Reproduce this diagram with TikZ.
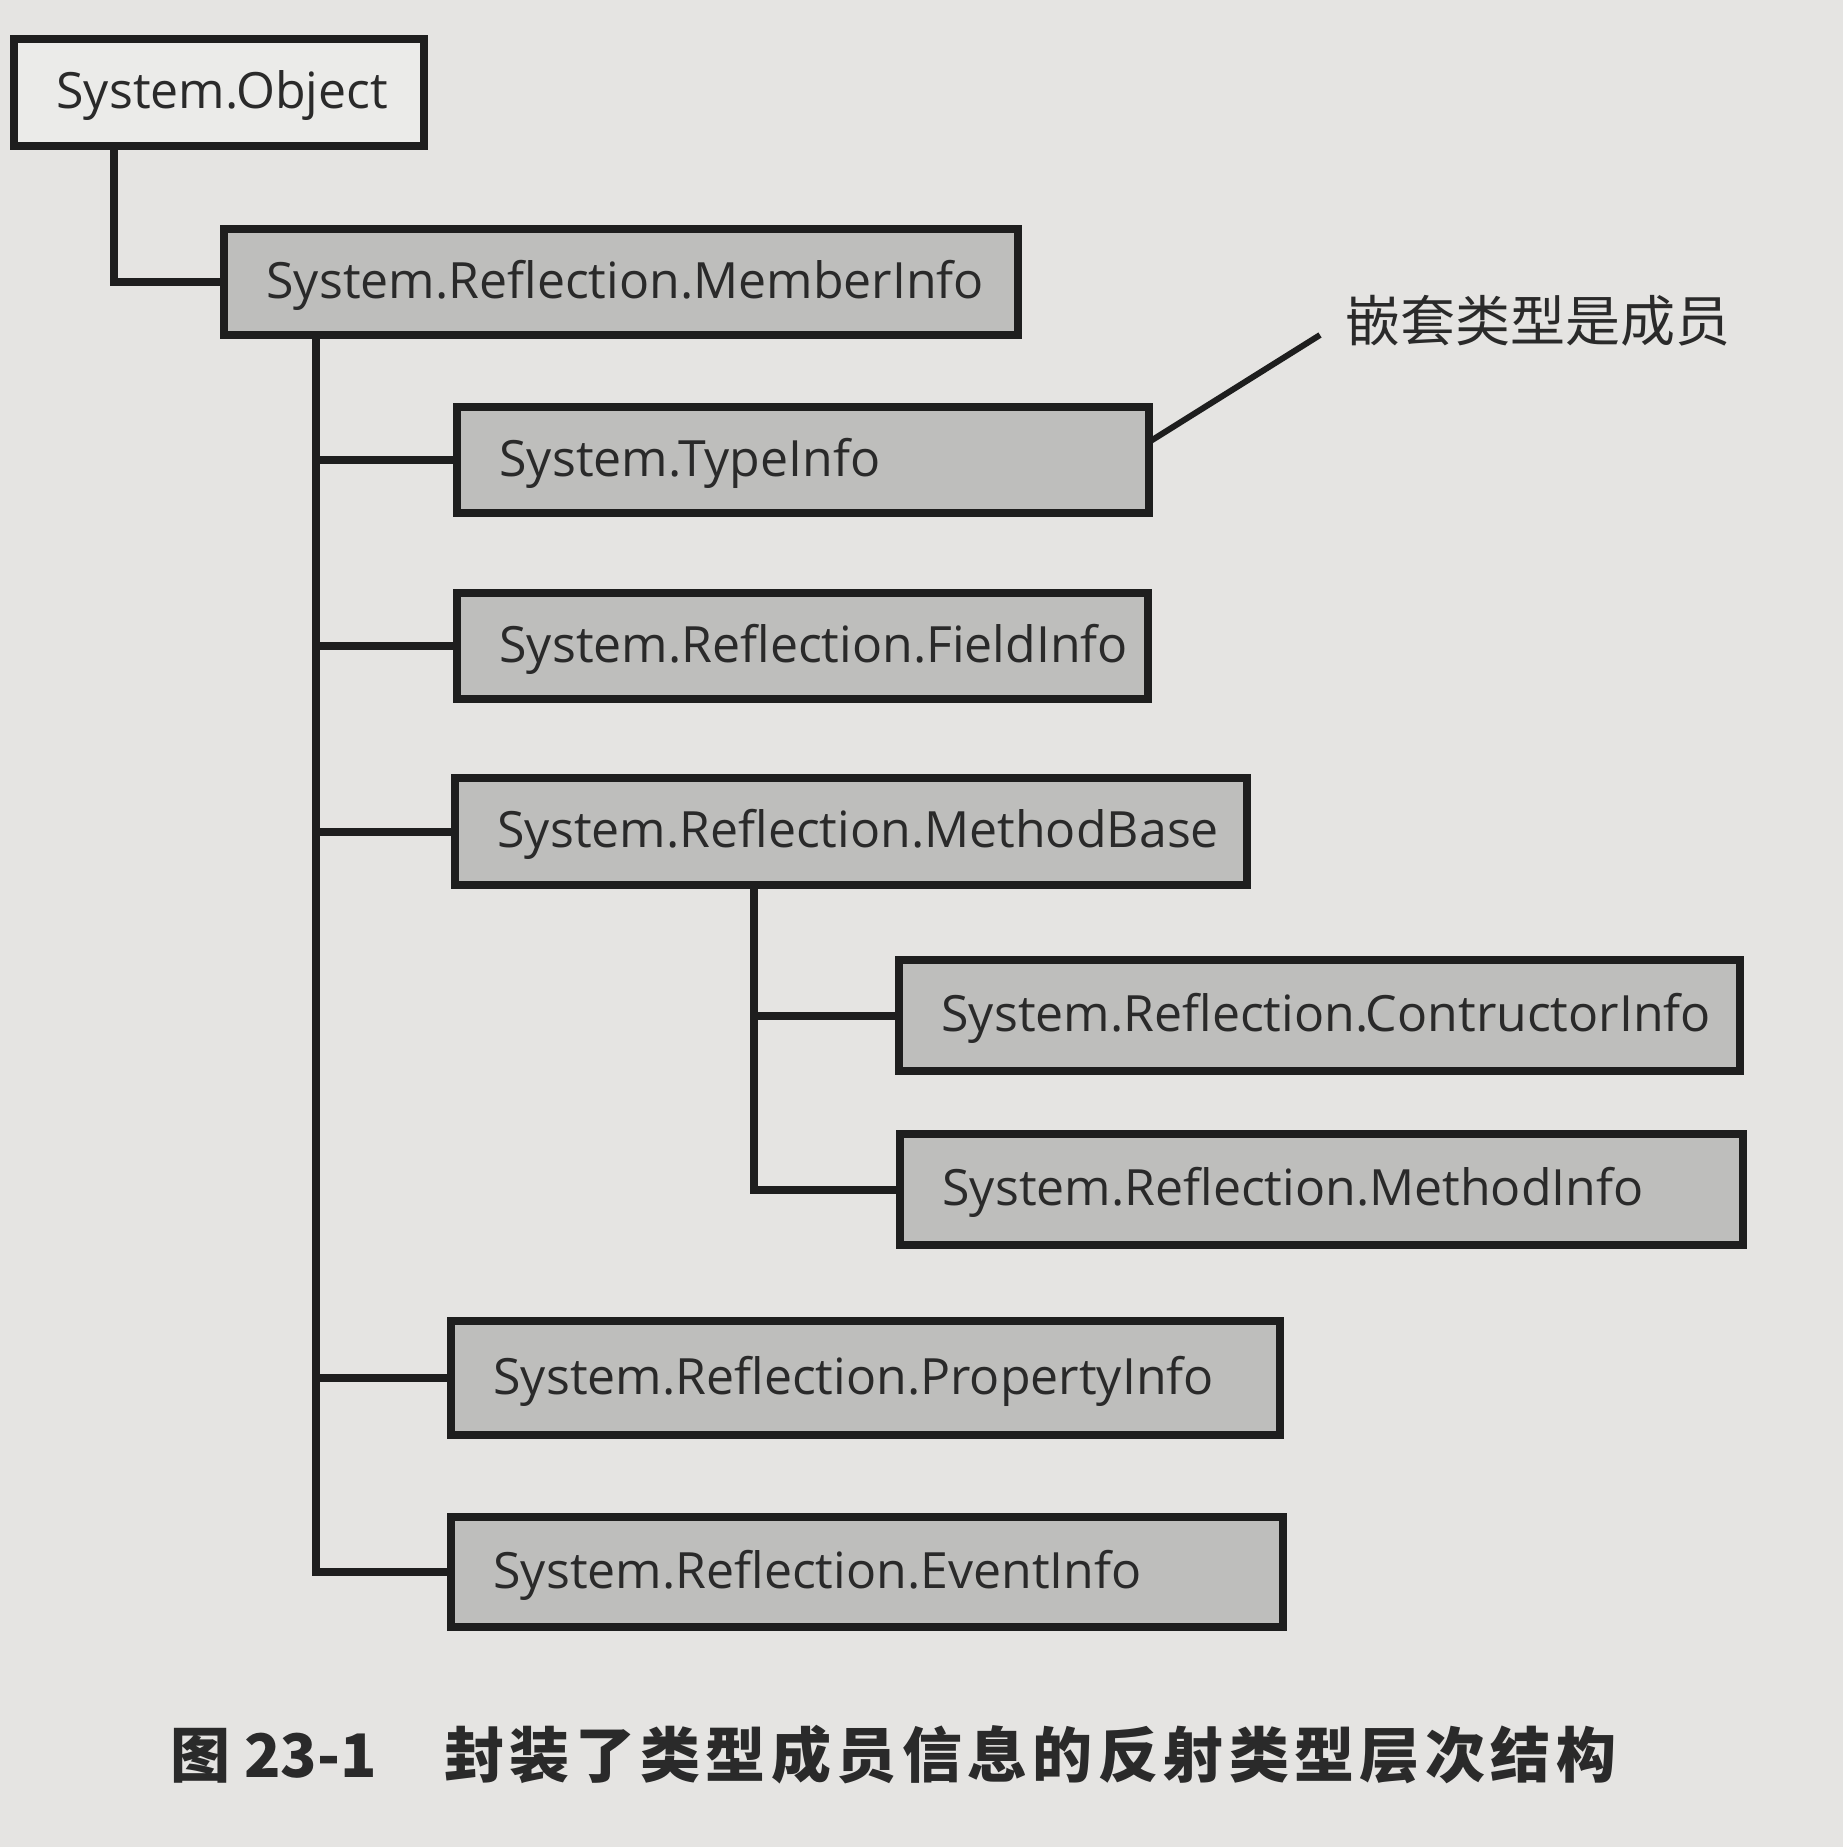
\documentclass[tikz,border=0pt]{standalone}
\usepackage{fontspec}
\setmainfont{Open Sans}
\newfontfamily\cjk{Noto Sans CJK SC}
\usetikzlibrary{fit}

\definecolor{paper}{RGB}{229,228,226}
\definecolor{boxgray}{RGB}{190,190,188}
\definecolor{ink}{RGB}{30,30,30}
\definecolor{txt}{RGB}{42,42,42}

\tikzset{
  box/.style={draw=ink, line width=3.2pt, fill=boxgray, inner sep=0pt, outer sep=0pt},
  rootbox/.style={box, fill=paper!75!white},
  boxtext/.style={anchor=base west, inner sep=0pt, text=txt, font=\fontsize{20}{24}\selectfont},
  link/.style={draw=ink, line width=3.2pt, line cap=rect},
  note/.style={anchor=west, inner sep=0pt, text=txt, font=\cjk\fontsize{22}{26}\selectfont},
}

\newcommand{\boxlabel}[2]{\node[boxtext] at ([xshift=16.8pt, yshift=-6.4pt]#1.west) {#2};}

\begin{document}
\begin{tikzpicture}[x=0.4pt, y=-0.4pt]
  % page
  \fill[paper] (0,0) rectangle (1843,1847);
  \useasboundingbox (0,0) rectangle (1843,1847);

  % class boxes
  \node[rootbox, fit={(14,39) (424,146)}] (obj) {};
  \node[box, fit={(224,229) (1018,335)}] (mi) {};
  \node[box, fit={(457,407) (1149,513)}] (ti) {};
  \node[box, fit={(457,593) (1148,699)}] (fi) {};
  \node[box, fit={(455,778) (1247,885)}] (mb) {};
  \node[box, fit={(899,960) (1740,1071)}] (ci) {};
  \node[box, fit={(900,1134) (1743,1245)}] (mti) {};
  \node[box, fit={(451,1321) (1280,1435)}] (pi) {};
  \node[box, fit={(451,1517) (1283,1627)}] (ei) {};

  \boxlabel{obj}{System.Object}
  \boxlabel{mi}{System.Reflection.MemberInfo}
  \boxlabel{ti}{System.TypeInfo}
  \boxlabel{fi}{System.Reflection.FieldInfo}
  \boxlabel{mb}{System.Reflection.MethodBase}
  \boxlabel{ci}{System.Reflection.ContructorInfo}
  \boxlabel{mti}{System.Reflection.MethodInfo}
  \boxlabel{pi}{System.Reflection.PropertyInfo}
  \boxlabel{ei}{System.Reflection.EventInfo}

  % tree connectors
  \coordinate (objx) at (114,0);
  \coordinate (trunk) at (316,0);
  \coordinate (subtrunk) at (754,0);

  \draw[link] (obj.south -| objx) |- (mi.west);

  \draw[link] (mi.south -| trunk) |- (ei.west);
  \draw[link] (ti.west -| trunk) -- (ti.west);
  \draw[link] (fi.west -| trunk) -- (fi.west);
  \draw[link] (mb.west -| trunk) -- (mb.west);
  \draw[link] (pi.west -| trunk) -- (pi.west);

  \draw[link] (mb.south -| subtrunk) |- (mti.west);
  \draw[link] (ci.west -| subtrunk) -- (ci.west);

  % annotation
  \coordinate (noteend) at (1320,335);
  \draw[draw=ink, line width=2.4pt] (ti.east |- 0,442) -- (noteend);
  \node[note] (nested) at (1345,321) {嵌套类型是成员};

  % caption
  \node[anchor=west, inner sep=0pt, text=txt] (caption) at (170,1755)
    {\cjk\bfseries\fontsize{24}{29}\selectfont 图 23-1\hspace{27pt}\addfontfeatures{LetterSpace=9}封装了类型成员信息的反射类型层次结构};
\end{tikzpicture}
\end{document}
